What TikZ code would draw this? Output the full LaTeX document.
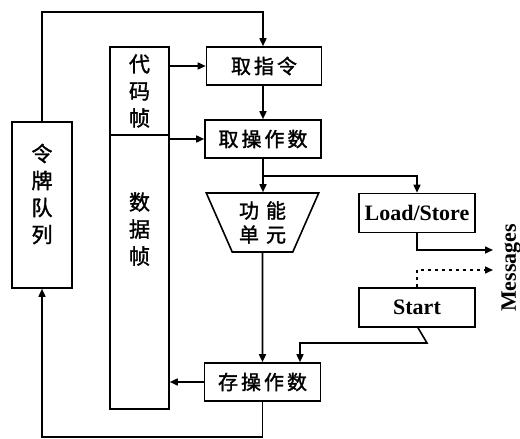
\documentclass[tikz,border=0pt]{standalone}
\usepackage{fontspec}
\setmainfont{Liberation Serif}
\newfontfamily\cjk{Noto Sans CJK SC}[FakeBold=1.6]
\usetikzlibrary{arrows.meta,shapes.geometric}
\begin{document}
\begin{tikzpicture}[x=1pt,y=-1pt,line width=1.6pt,
  arr/.style={-{Triangle[length=8pt,width=7pt]}},
  dots/.style={dash pattern=on 3pt off 4pt},
  box/.style={draw,inner sep=0pt,font=\cjk\fontsize{20}{26}\selectfont,align=center},
  cjkt/.style={inner sep=0pt,font=\cjk\fontsize{21}{27}\selectfont,align=center},
  lat/.style={draw,inner sep=0pt,font=\bfseries\fontsize{22}{24}\selectfont,minimum width=116pt,minimum height=39pt}]
\useasboundingbox (0,0) rectangle (520,439);
% boxes
\node[draw,minimum width=60pt,minimum height=166pt,inner sep=0pt] (tq) at (42,205) {};
\node[cjkt] (tqt) at (42,194) {令\\牌\\队\\列};
\node[draw,minimum width=59pt,minimum height=88pt,inner sep=0pt] (code) at (139.5,91) {};
\node[cjkt] (codet) at (139.5,91) {代\\码\\帧};
\node[draw,minimum width=59pt,minimum height=274pt,inner sep=0pt] (data) at (139.5,272) {};
\node[cjkt] (datat) at (139.5,229) {数\\据\\帧};
\node[box,minimum width=115pt,minimum height=38pt] (fetch) at (264,66) {取\hspace{3pt}指\hspace{3pt}令};
\node[box,minimum width=116pt,minimum height=38pt] (fop) at (263,139) {取\hspace{3pt}操\hspace{3pt}作\hspace{3pt}数};
\node[draw,trapezium,shape border rotate=180,trapezium stretches=true,
      trapezium left angle=64.6,trapezium right angle=64.6,
      minimum width=113pt,minimum height=59pt,inner sep=0pt,
      font=\cjk\fontsize{20}{24}\selectfont,align=center] (fu) at (262.5,222.5) {功\hspace{7pt}能\\单\hspace{7pt}元};
\node[lat] (ls) at (417,213) {Load/Store};
\node[lat] (start) at (417,307.5) {Start};
\node[box,minimum width=116pt,minimum height=38pt] (sop) at (262.5,382) {存\hspace{3pt}操\hspace{3pt}作\hspace{3pt}数};
\node[font=\bfseries\fontsize{22}{24}\selectfont,rotate=90,inner sep=0pt] (msg) at (511,268) {Messages};
% coordinates
\coordinate (tl) at (42,12);
\coordinate (j) at (263,176);
\coordinate (m1) at (493,250);
\coordinate (m2) at (493,270);
\coordinate (k) at (427,343);
\coordinate (bot) at (262.5,437);
% connectors
\draw[arr] (tq.north) -- (tl) -| (fetch.north -| j);
\draw[arr] (code.east |- fetch.west) -- (fetch.west);
\draw[arr] (code.south east |- fop.west) -- (fop.west);
\draw[arr] (fetch.south -| j) -- (fop.north -| j);
\draw[arr] (fop.south -| j) -- (fu.north -| j);
\draw[arr] (j) -| (ls.north);
\draw[arr] (ls.south) |- (m1);
\draw[arr,dots] (start.north) |- (m2);
\draw[arr] ([xshift=1pt]start.south) -- (k) -| ([xshift=37.5pt]sop.north);
\draw[arr] (fu.south) -- (sop.north);
\draw[arr] (sop.west) -- (data.east |- sop.west);
\draw[arr] (sop.south) -- (bot) -| (tq.south);
\end{tikzpicture}
\end{document}
